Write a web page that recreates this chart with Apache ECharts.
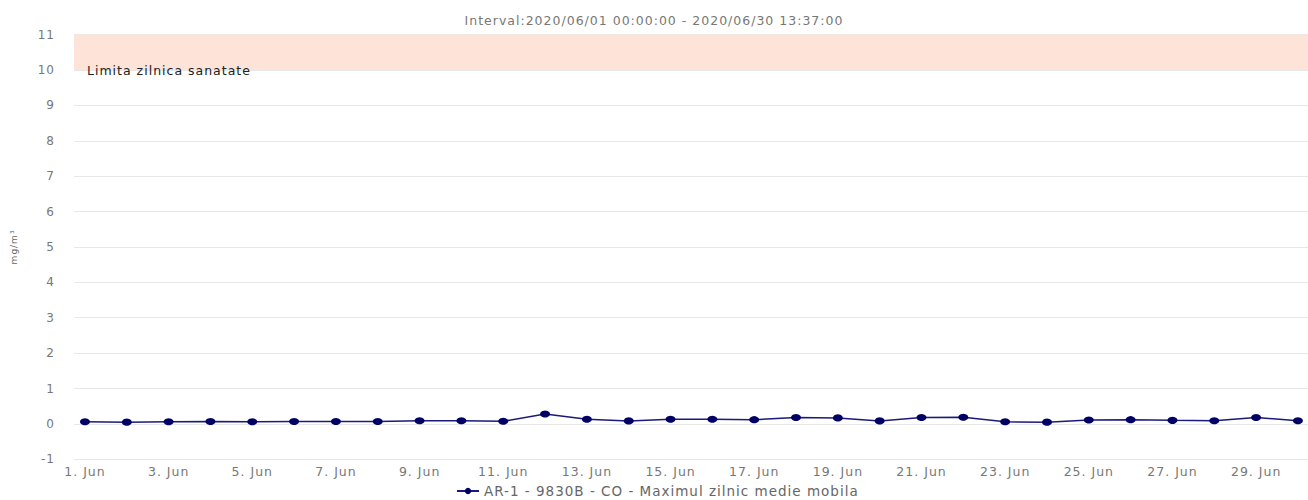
<!DOCTYPE html>
<html>
<head>
<meta charset="utf-8">
<script src="https://cdn.jsdelivr.net/npm/echarts@6/dist/echarts.min.js"></script>
<style>
html,body{margin:0;padding:0;background:#fff}
#c{width:1308px;height:500px}
#c svg text{letter-spacing:1px}
</style>
</head>
<body>
<div id="c"></div>
<script>
const days = [1,2,3,4,5,6,7,8,9,10,11,12,13,14,15,16,17,18,19,20,21,22,23,24,25,26,27,28,29,30];
const values = [0.06,0.05,0.06,0.07,0.06,0.07,0.07,0.07,0.09,0.09,0.075,0.28,0.13,0.085,0.13,0.13,0.12,0.18,0.17,0.085,0.18,0.19,0.06,0.05,0.11,0.12,0.10,0.09,0.18,0.09];
const tickDays = [1,3,5,7,9,11,13,15,17,19,21,23,25,27,29];
const seriesName = 'AR-1 - 9830B - CO - Maximul zilnic medie mobila';
const titleText = 'Interval:2020/06/01 00:00:00 - 2020/06/30 13:37:00';
const bandFrom = 10, bandTo = 11;
const bandLabel = 'Limita zilnica sanatate';

const chart = echarts.init(document.getElementById('c'), null, { renderer: 'svg' });
const font = '"DejaVu Sans", Verdana, sans-serif';
chart.setOption({
  animation: false,
  textStyle: { fontFamily: font },
  title: {
    text: titleText, left: 'center', top: 9,
    textStyle: { color: '#777', fontSize: 12.5, fontWeight: 'normal', fontFamily: font }
  },
  legend: {
    bottom: -3, left: 451,
    itemWidth: 22, itemHeight: 8, itemGap: 6,
    textStyle: { color: '#666', fontSize: 13.5, fontFamily: font },
    data: [seriesName]
  },
  grid: { left: 74, right: 0, top: 34.6, bottom: 40.7 },
  xAxis: {
    type: 'value', min: 0.737, max: 30.24,
    axisLine: { show: false }, axisTick: { show: false }, splitLine: { show: false },
    axisLabel: {
      customValues: tickDays, color: '#777', fontSize: 12.5, margin: 6, fontFamily: font,
      formatter: v => v + '. Jun'
    }
  },
  yAxis: {
    type: 'value', min: -1, max: 11, interval: 1,
    name: 'mg/m³', nameLocation: 'middle', nameGap: 56,
    nameTextStyle: { color: '#666', fontSize: 9, fontFamily: font },
    axisLine: { show: false }, axisTick: { show: false },
    axisLabel: { color: '#777', fontSize: 12, margin: 19, fontFamily: font },
    splitLine: { lineStyle: { color: '#e8e8e8' } }
  },
  series: [{
    name: seriesName, type: 'line',
    data: days.map((d, i) => [d, values[i]]),
    symbol: 'circle', symbolSize: [10, 7],
    itemStyle: { color: '#000066' },
    lineStyle: { color: '#1a1a7a', width: 1.5 },
    markArea: {
      silent: true,
      itemStyle: { color: '#fde3d8' },
      label: {
        show: true, position: 'insideBottomLeft', distance: 0, offset: [13, 7],
        color: '#222', fontSize: 12.5, fontFamily: font
      },
      data: [[{ yAxis: bandFrom, name: bandLabel }, { yAxis: bandTo }]]
    }
  }]
});
</script>
</body>
</html>
